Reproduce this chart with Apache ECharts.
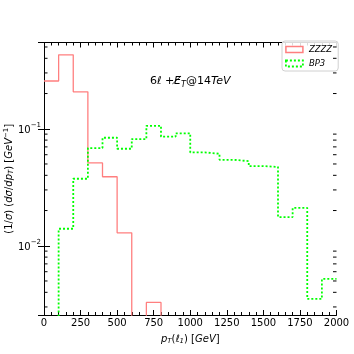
<!DOCTYPE html>
<html><head><meta charset="utf-8">
<script src="https://cdn.jsdelivr.net/npm/echarts@6/dist/echarts.min.js"></script>
<style>html,body{margin:0;padding:0;background:#fff}#c{width:354px;height:354px}</style>
</head><body><div id="c"></div>
<script>
// Bin edges (GeV), 100 GeV bins from 0 to 2000
const binEdges = [0,100,200,300,400,500,600,700,800,900,1000,1100,1200,1300,1400,1500,1600,1700,1800,1900,2000];
// Normalized distributions (1/sigma dsigma/dpT) per bin
const zzzz = [0.256,0.428,0.207,0.051,0.0389,0.0129,0,0.00328,0,0,0,0,0,0,0,0,0,0,0,0];
const bp3  = [0,0.01397,0.0374,0.0684,0.0838,0.0675,0.0817,0.106,0.0855,0.0914,0.0628,0.0611,0.0543,0.0529,0.048,0.0471,0.0176,0.0211,0.00352,0.00522];
// Axis decoration
const xTicks = [0,250,500,750,1000,1250,1500,1750,2000];
const yMinorTicks = [0.003,0.004,0.005,0.006,0.007,0.008,0.009,0.02,0.03,0.04,0.05,0.06,0.07,0.08,0.09,0.2,0.3,0.4,0.5];
const yMin = 0.00256, yMax = 0.546;
const ZERO_FLOOR = 1e-6; // empty bins drawn below the axis floor (clipped)

function stepData(vals){
  const d = vals.map((v,i)=>[binEdges[i], v>0? v : ZERO_FLOOR]);
  const last = vals[vals.length-1];
  d.push([binEdges[binEdges.length-1], last>0? last : ZERO_FLOOR]);
  return d;
}

const chart = echarts.init(document.getElementById('c'), null, {renderer:'canvas'});
const font = 'DejaVu Sans';
const supRich = {
  b:{fontFamily:font,fontSize:10,color:'#000',lineHeight:14,verticalAlign:'bottom'},
  s:{fontFamily:font,fontSize:7,color:'#000',lineHeight:14,verticalAlign:'top'}
};
function logFmt(v){
  const e = Math.log10(v);
  if (Math.abs(e-Math.round(e))>1e-6) return '';
  return '{b|10}{s|\u2212' + Math.abs(Math.round(e)) + '}';
}
const tickStyle = {color:'#000',width:1};
chart.setOption({
  animation:false,
  grid:{left:44,right:17.5,top:42.5,bottom:39,outerBoundsMode:'none'},
  xAxis:[{
    type:'value',min:0,max:2000,interval:250,position:'bottom',
    axisLine:{show:true,lineStyle:{color:'#000',width:1}},
    axisTick:{show:true,inside:true,length:5,lineStyle:tickStyle},
    minorTick:{show:true,splitNumber:5,length:3,lineStyle:tickStyle},
    splitLine:{show:false},
    axisLabel:{fontFamily:font,fontSize:10,color:'#000',margin:3,
      formatter:v=> xTicks.includes(v)? String(v):''},
    name:'{i|p}{sub|T}{n|(}{i|ℓ}{sub|1}{n|) [}{i|GeV}{n|]}',
    nameLocation:'middle',nameGap:18,nameMoveOverlap:false,
    nameTextStyle:{rich:{
      i:{fontFamily:font,fontStyle:'italic',fontSize:10,color:'#000',lineHeight:12},
      n:{fontFamily:font,fontSize:10,color:'#000',lineHeight:12},
      sub:{fontFamily:font,fontStyle:'italic',fontSize:7,color:'#000',lineHeight:12,padding:[4,0,0,0]}
    }}
  },{
    type:'value',min:0,max:2000,interval:250,position:'top',
    axisLine:{show:true,lineStyle:{color:'#000',width:1}},
    axisTick:{show:true,inside:true,length:5,lineStyle:tickStyle},
    minorTick:{show:true,splitNumber:5,length:3,lineStyle:tickStyle},
    splitLine:{show:false},axisLabel:{show:false}
  }],
  yAxis:[{
    type:'log',min:yMin,max:yMax,position:'left',
    axisLine:{show:true,lineStyle:{color:'#000',width:1}},
    axisTick:{show:true,inside:true,length:6,lineStyle:tickStyle},
    splitLine:{show:false},
    axisLabel:{formatter:logFmt,rich:supRich,margin:3,showMinLabel:false,showMaxLabel:false},
    name:'{n|(1/}{i|σ}{n|) (}{i|dσ}{n|/}{i|dp}{sub|T}{n|) [}{i|GeV}{sup|−1}{n|]}',
    nameLocation:'middle',nameRotate:90,nameGap:29,nameMoveOverlap:false,
    nameTextStyle:{rich:{
      i:{fontFamily:font,fontStyle:'italic',fontSize:10,color:'#000',lineHeight:12,verticalAlign:'middle'},
      n:{fontFamily:font,fontSize:10,color:'#000',lineHeight:12,verticalAlign:'middle'},
      sub:{fontFamily:font,fontStyle:'italic',fontSize:7,color:'#000',lineHeight:12,verticalAlign:'bottom'},
      sup:{fontFamily:font,fontSize:7,color:'#000',lineHeight:12,verticalAlign:'top'}
    }}
  },{
    type:'log',min:yMin,max:yMax,position:'right',
    axisLine:{show:true,lineStyle:{color:'#000',width:1}},
    axisTick:{show:true,inside:true,length:6,lineStyle:tickStyle},
    splitLine:{show:false},axisLabel:{show:false}
  }],
  legend:{
    orient:'vertical',left:282,top:41,
    padding:[4,6,3,3],itemGap:5,itemWidth:17,itemHeight:6,
    backgroundColor:'rgba(255,255,255,0.85)',borderColor:'#d0d0d0',borderWidth:1,borderRadius:3,
    textStyle:{fontFamily:font,fontStyle:'italic',fontSize:8.5,color:'#000',padding:[0,0,0,1]},
    data:[
      {name:'ZZZZ',icon:'rect',itemStyle:{color:'#fff',borderColor:'#ff7f7f',borderWidth:1.5}},
      {name:'BP3',icon:'rect',itemStyle:{color:'#fff',borderColor:'#00ff00',borderWidth:1.8,borderType:[2,2]}}
    ]
  },
  graphic:[{
    type:'text',left:150,top:75,z:10,
    style:{
      text:'{n|6}{i|ℓ} {n|+}{i|E\u0338}{sub|T}{n|@14}{i|TeV}',
      rich:{
        n:{fontFamily:font,fontSize:11,fill:'#000',lineHeight:15,verticalAlign:'middle'},
        i:{fontFamily:font,fontStyle:'italic',fontSize:11,fill:'#000',lineHeight:15,verticalAlign:'middle'},
        sub:{fontFamily:font,fontStyle:'italic',fontSize:8,fill:'#000',lineHeight:15,verticalAlign:'bottom'}
      }
    }
  }],
  series:[
    {name:'ZZZZ',type:'line',step:'end',data:stepData(zzzz),showSymbol:false,symbol:'none',clip:true,
     lineStyle:{color:'#ff7f7f',width:1.3},itemStyle:{color:'#ff7f7f'},z:3},
    {name:'BP3',type:'line',step:'end',data:stepData(bp3),showSymbol:false,symbol:'none',clip:true,
     lineStyle:{color:'#00ff00',width:1.8,type:[2,2]},itemStyle:{color:'#00ff00'},z:4},
    {type:'custom',coordinateSystem:'cartesian2d',silent:true,z:5,
     data:yMinorTicks.map(v=>[0,v]),
     renderItem:function(params,api){
       const p = api.coord([0, api.value(1)]);
       const cs = params.coordSys;
       return {type:'group',children:[
         {type:'line',shape:{x1:cs.x,y1:p[1],x2:cs.x+3.5,y2:p[1]},style:{stroke:'#000',lineWidth:1}},
         {type:'line',shape:{x1:cs.x+cs.width-3.5,y1:p[1],x2:cs.x+cs.width,y2:p[1]},style:{stroke:'#000',lineWidth:1}}
       ]};
     }}
  ]
});
</script></body></html>
